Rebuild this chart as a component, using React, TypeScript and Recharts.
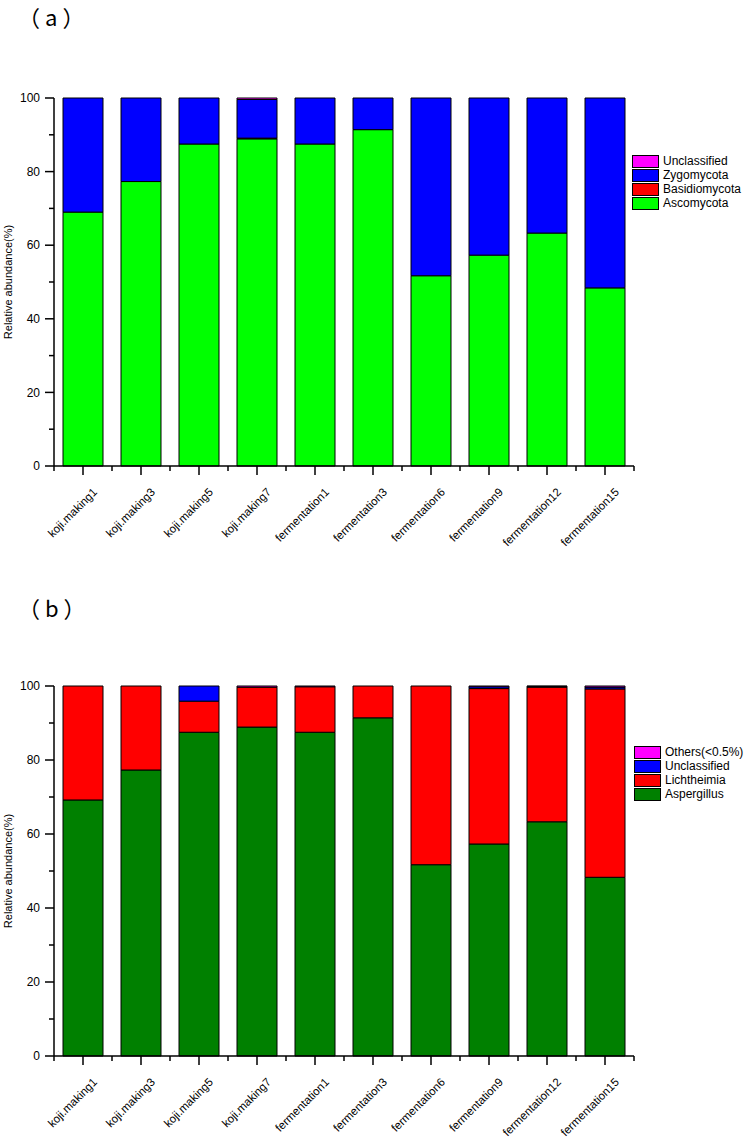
import React from "react";
import { BarChart, Bar, XAxis, YAxis } from "recharts";

const categories = [
  "koji.making1",
  "koji.making3",
  "koji.making5",
  "koji.making7",
  "fermentation1",
  "fermentation3",
  "fermentation6",
  "fermentation9",
  "fermentation12",
  "fermentation15",
];

// (a) phylum level
const ascomycota = [69.0, 77.3, 87.5, 88.9, 87.5, 91.4, 51.7, 57.3, 63.3, 48.4];
const basidiomycota = [0, 0, 0, 0.2, 0, 0, 0, 0, 0, 0];
const zygomycota = [31.0, 22.7, 12.5, 10.5, 12.5, 8.6, 48.3, 42.7, 36.7, 51.6];
const unclassifiedPhylum = [0, 0, 0, 0.4, 0, 0, 0, 0, 0, 0];

// (b) genus level
const aspergillus = [69.2, 77.3, 87.5, 88.9, 87.5, 91.4, 51.7, 57.3, 63.3, 48.3];
const lichtheimia = [30.8, 22.7, 8.4, 10.8, 12.3, 8.6, 48.3, 42.0, 36.4, 50.9];
const unclassifiedGenus = [0, 0, 4.1, 0, 0, 0, 0, 0.5, 0.2, 0.5];
const others = [0, 0, 0, 0.3, 0.2, 0, 0, 0.2, 0.1, 0.3];

const yTicks = [0, 10, 20, 30, 40, 50, 60, 70, 80, 90, 100];

const FONT = "'Liberation Sans', Arial, sans-serif";
const PLOT_LEFT = 54;
const PLOT_RIGHT = 634;
const HALF_BAND = (PLOT_RIGHT - PLOT_LEFT) / categories.length / 2;

type Series = { key: string; name: string; color: string; values: number[] };

const phylumSeries: Series[] = [
  { key: "asco", name: "Ascomycota", color: "#00FF00", values: ascomycota },
  { key: "basi", name: "Basidiomycota", color: "#FF0000", values: basidiomycota },
  { key: "zygo", name: "Zygomycota", color: "#0000FF", values: zygomycota },
  { key: "uncl", name: "Unclassified", color: "#FF00FF", values: unclassifiedPhylum },
];

const genusSeries: Series[] = [
  { key: "asp", name: "Aspergillus", color: "#008000", values: aspergillus },
  { key: "lic", name: "Lichtheimia", color: "#FF0000", values: lichtheimia },
  { key: "uncl", name: "Unclassified", color: "#0000FF", values: unclassifiedGenus },
  { key: "oth", name: "Others(<0.5%)", color: "#FF00FF", values: others },
];

const YTick = (props: any) => {
  const { x, y, payload } = props;
  const major = payload.value % 20 === 0;
  return (
    <g>
      <line x1={x - (major ? 9 : 5)} x2={x} y1={y} y2={y} stroke="#000" strokeWidth={1.5} />
      {major && (
        <text x={x - 14} y={y} dy="0.35em" textAnchor="end" fontSize={12} fontFamily={FONT} fill="#000">
          {payload.value}
        </text>
      )}
    </g>
  );
};

const XTick = (props: any) => {
  const { x, y, payload, index } = props;
  const tx = x + 12;
  const ty = y + 24;
  return (
    <g>
      <line x1={x} x2={x} y1={y} y2={y + 9} stroke="#000" strokeWidth={1.5} />
      <line x1={x - HALF_BAND} x2={x - HALF_BAND} y1={y} y2={y + 5} stroke="#000" strokeWidth={1.5} />
      {index === categories.length - 1 && (
        <line x1={x + HALF_BAND} x2={x + HALF_BAND} y1={y} y2={y + 5} stroke="#000" strokeWidth={1.5} />
      )}
      <text
        x={tx}
        y={ty}
        dy="0.35em"
        textAnchor="end"
        transform={`rotate(-45, ${tx}, ${ty})`}
        fontSize={11.5}
        fontFamily={FONT}
        fill="#000"
      >
        {payload.value}
      </text>
    </g>
  );
};

const YLabel = (props: any) => {
  const { viewBox } = props;
  const cy = viewBox.y + viewBox.height / 2;
  return (
    <text
      x={12}
      y={cy}
      transform={`rotate(-90, 12, ${cy})`}
      textAnchor="middle"
      fontSize={11}
      fontFamily={FONT}
      fill="#000"
    >
      Relative abundance(%)
    </text>
  );
};

interface PanelProps {
  title: string;
  series: Series[];
  top: number;
  height: number;
  plotTop: number;
  plotHeight: number;
  titleTop: number;
  legendTop: number;
  legendLeft: number;
}

const Panel: React.FC<PanelProps> = ({
  title,
  series,
  top,
  height,
  plotTop,
  plotHeight,
  titleTop,
  legendTop,
  legendLeft,
}) => {
  const data = categories.map((name, i) => {
    const row: Record<string, string | number> = { name };
    series.forEach((s) => {
      row[s.key] = s.values[i];
    });
    return row;
  });
  const marginTop = plotTop - top;
  return (
    <div style={{ position: "absolute", left: 0, top, width: 749, height }}>
      <div
        style={{
          position: "absolute",
          left: 18,
          top: titleTop - top,
          fontSize: 22,
          lineHeight: "30px",
          letterSpacing: "5px",
          fontFamily: "'Noto Sans CJK SC', 'Liberation Sans', sans-serif",
          color: "#000",
          whiteSpace: "nowrap",
        }}
      >
        {title}
      </div>
      <BarChart
        width={749}
        height={height}
        data={data}
        margin={{ top: marginTop, right: 749 - PLOT_RIGHT, bottom: 0, left: 0 }}
        barSize={40}
      >
        <XAxis
          dataKey="name"
          interval={0}
          tickSize={0}
          tickMargin={0}
          tickLine={false}
          axisLine={{ stroke: "#000", strokeWidth: 1.5 }}
          tick={<XTick />}
          height={height - marginTop - plotHeight}
        />
        <YAxis
          domain={[0, 100]}
          ticks={yTicks}
          interval={0}
          width={PLOT_LEFT}
          tickSize={0}
          tickMargin={0}
          tickLine={false}
          axisLine={{ stroke: "#000", strokeWidth: 1.5 }}
          tick={<YTick />}
          label={{ value: "Relative abundance(%)", content: <YLabel /> }}
        />
        {series.map((s) => (
          <Bar
            key={s.key}
            dataKey={s.key}
            name={s.name}
            stackId="a"
            fill={s.color}
            stroke="#000"
            strokeWidth={1}
            isAnimationActive={false}
          />
        ))}
      </BarChart>
      <div style={{ position: "absolute", left: legendLeft, top: legendTop - top, fontFamily: FONT, fontSize: 12 }}>
        {[...series].reverse().map((s) => (
          <div key={s.key} style={{ display: "flex", alignItems: "center", height: 14 }}>
            <div
              style={{
                width: 25,
                height: 11,
                background: s.color,
                border: "1px solid #000",
                marginRight: 4,
              }}
            />
            <span style={{ lineHeight: "14px", color: "#000" }}>{s.name}</span>
          </div>
        ))}
      </div>
    </div>
  );
};

export default function App() {
  return (
    <div style={{ position: "absolute", left: 0, top: 0, width: 749, height: 1143, background: "#fff" }}>
      <Panel
        title="（a）"
        series={phylumSeries}
        top={0}
        height={580}
        plotTop={98}
        plotHeight={368}
        titleTop={1}
        legendTop={154}
        legendLeft={632}
      />
      <Panel
        title="（b）"
        series={genusSeries}
        top={580}
        height={563}
        plotTop={686}
        plotHeight={370}
        titleTop={592}
        legendTop={745}
        legendLeft={634}
      />
    </div>
  );
}
